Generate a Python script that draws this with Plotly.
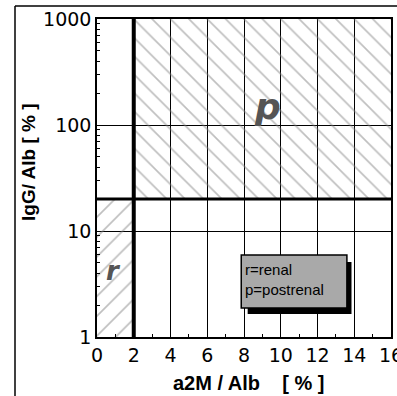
import math
import plotly.graph_objects as go

# Data
x_ticks = [0, 2, 4, 6, 8, 10, 12, 14, 16]
y_ticks = [1, 10, 100, 1000]
y_tick_labels = ["1", "10", "100", "1000"]
x_threshold = 2
y_threshold = 20
x_range = [0, 16]
y_range = [1, 1000]
legend_lines = ["r=renal", "p=postrenal"]

fig = go.Figure()

# postrenal region (p): x >= 2, y >= 20
fig.add_trace(go.Scatter(
    x=[x_threshold, x_range[1], x_range[1], x_threshold, x_threshold],
    y=[y_threshold, y_threshold, y_range[1], y_range[1], y_threshold],
    fill="toself", mode="lines", line=dict(width=0),
    fillcolor="rgba(0,0,0,0)",
    fillpattern=dict(shape="\\", fgcolor="#808080", bgcolor="rgba(0,0,0,0)",
                     size=13, solidity=0.13, fillmode="overlay"),
    hoverinfo="skip", showlegend=False))

# renal region (r): x <= 2, y <= 20
fig.add_trace(go.Scatter(
    x=[x_range[0], x_threshold, x_threshold, x_range[0], x_range[0]],
    y=[y_range[0], y_range[0], y_threshold, y_threshold, y_range[0]],
    fill="toself", mode="lines", line=dict(width=0),
    fillcolor="rgba(0,0,0,0)",
    fillpattern=dict(shape="/", fgcolor="#808080", bgcolor="rgba(0,0,0,0)",
                     size=14, solidity=0.12, fillmode="overlay"),
    hoverinfo="skip", showlegend=False))

# thick threshold lines
fig.add_trace(go.Scatter(x=[x_threshold, x_threshold], y=y_range, mode="lines",
                         line=dict(color="black", width=4), hoverinfo="skip", showlegend=False))
fig.add_trace(go.Scatter(x=x_range, y=[y_threshold, y_threshold], mode="lines",
                         line=dict(color="black", width=3), hoverinfo="skip", showlegend=False))

# legend box (shadow + box)
fig.add_shape(type="rect", xref="x", yref="y", x0=8.2, x1=13.85, y0=1.65, y1=5.1,
              fillcolor="black", line=dict(width=0), layer="above")
fig.add_shape(type="rect", xref="x", yref="y", x0=7.85, x1=13.6, y0=1.88, y1=5.94,
              fillcolor="#a9a9a9", line=dict(color="black", width=1.5), layer="above")

fig.add_annotation(x=7.95, y=math.log10(4.3), xref="x", yref="y", text=legend_lines[0],
                   showarrow=False, xanchor="left", yanchor="middle",
                   font=dict(family="Liberation Sans, Arial", size=15, color="black"))
fig.add_annotation(x=7.95, y=math.log10(2.80), xref="x", yref="y", text=legend_lines[1],
                   showarrow=False, xanchor="left", yanchor="middle",
                   font=dict(family="Liberation Sans, Arial", size=15, color="black"))

# region labels
fig.add_annotation(x=9.3, y=2.17, xref="x", yref="y", text="<b><i>p</i></b>",
                   showarrow=False, font=dict(family="DejaVu Sans", size=36, color="#555555"))
fig.add_annotation(x=0.9, y=0.62, xref="x", yref="y", text="<b><i>r</i></b>",
                   showarrow=False, font=dict(family="DejaVu Sans", size=26, color="#555555"))

# axis titles
fig.add_annotation(x=(28 - 97) / 294, y=(337 - 162) / 318, xref="paper", yref="paper",
                   text="<b>IgG/ Alb [ % ]</b>",
                   showarrow=False, textangle=-90, xanchor="center", yanchor="middle",
                   font=dict(family="Liberation Sans, Arial", size=19, color="black"))
fig.add_annotation(x=(249 - 97) / 294, y=(337 - 383) / 318, xref="paper", yref="paper",
                   text="<b>a2M / Alb&nbsp;&nbsp;&nbsp; [ % ]</b>", showarrow=False,
                   xanchor="center", yanchor="middle",
                   font=dict(family="Liberation Sans, Arial", size=20, color="black"))

# outer frame lines
fig.add_shape(type="line", xref="paper", yref="paper",
              x0=(15 - 97) / 294, x1=(15 - 97) / 294, y0=(337 - 400) / 318, y1=(337 - 6) / 318,
              line=dict(color="black", width=1.5))
fig.add_shape(type="line", xref="paper", yref="paper",
              x0=(15 - 97) / 294, x1=(400 - 97) / 294, y0=(337 - 6) / 318, y1=(337 - 6) / 318,
              line=dict(color="black", width=1.5))

fig.update_xaxes(range=x_range, tickvals=x_ticks, ticktext=[str(v) for v in x_ticks],
                 showgrid=True, gridcolor="black", gridwidth=1, zeroline=False,
                 showline=True, linecolor="black", linewidth=1.5, mirror=True,
                 ticks="", ticklabeloverflow="allow", automargin=False,
                 tickfont=dict(family="DejaVu Sans", size=19, color="black"),
                 minor=dict(tickvals=[1, 3, 5, 7, 9, 11, 13, 15], ticks="inside", ticklen=3,
                            tickcolor="black", showgrid=False))
fig.update_yaxes(type="log", range=[0, 3], tickvals=y_ticks, ticktext=y_tick_labels,
                 showgrid=True, gridcolor="black", gridwidth=1, zeroline=False,
                 showline=True, linecolor="black", linewidth=1.5, mirror=True,
                 ticks="", ticklabeloverflow="allow", automargin=False,
                 tickfont=dict(family="DejaVu Sans", size=19, color="black"),
                 minor=dict(tickvals=[2, 3, 4, 5, 6, 7, 8, 9, 20, 30, 40, 50, 60, 70, 80, 90,
                                      200, 300, 400, 500, 600, 700, 800, 900],
                            ticks="inside", ticklen=3, tickcolor="black", showgrid=False))

fig.update_layout(width=397, height=396, margin=dict(l=97, r=6, t=19, b=59, autoexpand=False),
                  plot_bgcolor="white", paper_bgcolor="white", showlegend=False)

fig.write_html("out.html", config={"displayModeBar": False},
               post_script="document.body.style.margin='0';document.body.style.overflow='hidden';")
